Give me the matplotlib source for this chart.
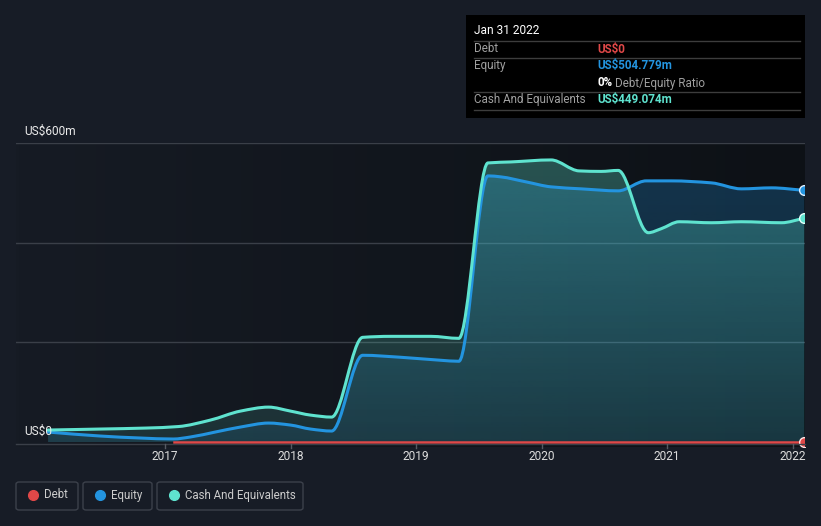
import numpy as np
import matplotlib
matplotlib.use("Agg")
import matplotlib.pyplot as plt
from matplotlib.patches import Rectangle, FancyBboxPatch, PathPatch
from matplotlib.path import Path
from matplotlib.colors import to_rgb

plt.rcParams['font.family'] = ['Roboto', 'DejaVu Sans']

# values (US$ m)
cash_years = [2016.068, 2016.482, 2016.85, 2017.104, 2017.359, 2017.598, 2017.821,
              2017.996, 2018.155, 2018.323, 2018.570, 2018.793, 2019.112,
              2019.335, 2019.566, 2019.749, 2020.068, 2020.291,
              2020.466, 2020.602, 2020.841, 2020.944, 2021.088, 2021.343, 2021.582,
              2021.900, 2022.082]
cash_vals = [24, 26, 28, 31, 44, 62, 70,
             62, 54, 50, 210, 212, 212,
             208, 560, 562, 566, 544,
             543, 545, 420, 428, 442, 440, 442,
             440, 449]

equity_years = [2016.068, 2016.482, 2016.801, 2017.064, 2017.199, 2017.398, 2017.598,
                2017.821, 2017.996, 2018.155, 2018.323, 2018.570, 2018.873,
                2019.191, 2019.335, 2019.566, 2019.669, 2019.869, 2020.068,
                2020.307, 2020.602, 2020.825, 2021.024, 2021.343, 2021.582, 2021.821,
                2022.082]
equity_vals = [20, 12, 8, 6, 10, 20, 30,
               38, 34, 26, 22, 174, 170,
               164, 162, 534, 532, 522, 512,
               508, 504, 524, 524, 520, 508, 510,
               505]

debt_years = [2017.07, 2018.0, 2019.0, 2020.0, 2021.0, 2022.082]
debt_vals = [0, 0, 0, 0, 0, 0]

tick_years = [2017, 2018, 2019, 2020, 2021, 2022]

BG = '#171c26'
CASH = '#5fe3cf'
EQUITY = '#2394df'
DEBT = '#e04848'

fig = plt.figure(figsize=(8.21, 5.26), dpi=100, facecolor=BG)
W, H = 821, 526

def px(x, y):
    return x / W, 1 - y / H

# axes: left 16px, right 805px, top 143px (600m), bottom 447px
x0, x1 = 2015.813, 2022.0876
ytop, ybot = 143, 447
ymin = -(ybot - 442) * 600 / 299
ax = fig.add_axes([16 / W, 1 - ybot / H, (805 - 16) / W, (ybot - ytop) / H])
ax.set_xlim(x0, x1)
ax.set_ylim(ymin, 600)
ax.axis('off')

# horizontal background gradient
c_left = np.array(to_rgb('#161b24'))
c_right = np.array(to_rgb('#0d1116'))
t = np.linspace(0, 1, 256)
bg = c_left[None, :] * (1 - t[:, None]) + c_right[None, :] * t[:, None]
ax.imshow(bg[None, :, :], extent=[x0, x1, ymin, 600], aspect='auto', zorder=0, origin='lower')

for gy in [200, 400, 600]:
    ax.axhline(gy, color='#3a3f48', lw=1, zorder=1)


def smooth_path(xs, ys, close=False):
    # monotone cubic (Fritsch-Carlson) drawn as bezier segments
    xs = np.asarray(xs, float)
    ys = np.asarray(ys, float)
    n = len(xs)
    d = np.diff(ys) / np.diff(xs)
    m = np.zeros(n)
    m[0], m[-1] = d[0], d[-1]
    for i in range(1, n - 1):
        if d[i - 1] * d[i] <= 0:
            m[i] = 0
        else:
            m[i] = 2 / (1 / d[i - 1] + 1 / d[i])
    verts = [(xs[0], ys[0])]
    codes = [Path.MOVETO]
    for i in range(n - 1):
        h = xs[i + 1] - xs[i]
        verts += [(xs[i] + h / 3, ys[i] + m[i] * h / 3),
                  (xs[i + 1] - h / 3, ys[i + 1] - m[i + 1] * h / 3),
                  (xs[i + 1], ys[i + 1])]
        codes += [Path.CURVE4] * 3
    if close:
        verts += [(xs[-1], 0), (xs[0], 0), (xs[0], ys[0])]
        codes += [Path.LINETO, Path.LINETO, Path.CLOSEPOLY]
    return Path(verts, codes)


def gradient_fill(xs, ys, color, a_top, a_bot, z):
    rgb = np.array(to_rgb(color))
    n = 256
    img = np.zeros((n, 1, 4))
    img[:, 0, :3] = rgb
    img[:, 0, 3] = np.linspace(a_bot, a_top, n)
    im = ax.imshow(img, extent=[x0, x1, 0, 600], aspect='auto', origin='lower', zorder=z)
    im.set_clip_path(smooth_path(xs, ys, close=True), ax.transData)


gradient_fill(equity_years, equity_vals, EQUITY, 0.28, 0.12, 2)
gradient_fill(cash_years, cash_vals, CASH, 0.32, 0.12, 3)

ax.add_patch(PathPatch(smooth_path(equity_years, equity_vals), facecolor='none',
                       edgecolor=EQUITY, lw=2.2, zorder=5, capstyle='round', joinstyle='round'))
ax.add_patch(PathPatch(smooth_path(cash_years, cash_vals), facecolor='none',
                       edgecolor=CASH, lw=2.2, zorder=6, capstyle='round', joinstyle='round'))
ax.plot(debt_years, debt_vals, color=DEBT, lw=1.8, zorder=7)

ax.plot(equity_years[-1], equity_vals[-1], 'o', ms=7, color=EQUITY, mec='#dfefff', mew=1, zorder=8)
ax.plot(cash_years[-1], cash_vals[-1], 'o', ms=7, color=CASH, mec='#e6fffa', mew=1, zorder=8)
ax.plot(debt_years[-1], debt_vals[-1], 'o', ms=7, color=DEBT, mec='#ffe6e6', mew=1, zorder=8)

# baseline and ticks
fig.add_artist(plt.Line2D([16 / W, 805 / W], [1 - 443.5 / H] * 2, color='#3a3f48', lw=1))
for ty in tick_years:
    xp = 165 + (ty - 2017) * 125.5
    fig.add_artist(plt.Line2D([xp / W] * 2, [1 - 444 / H, 1 - 448 / H], color='#555a63', lw=1))
    fig.text(xp / W, 1 - 457 / H, str(ty), color='#dcdcdc', fontsize=8.6, ha='center', va='center')

fig.text(*px(24, 131), 'US$600m', color='#ebebeb', fontsize=8.6, va='center')
fig.text(*px(24, 431), 'US$0', color='#ebebeb', fontsize=8.6, va='center')

# right side strip
fig.add_artist(Rectangle(px(805, 447), 16 / W, (447 - 143) / H, facecolor=BG, edgecolor='none'))

# tooltip
fig.add_artist(Rectangle(px(466, 118), (805 - 466) / W, (118 - 15) / H, facecolor='#000000', edgecolor='none'))
fig.text(*px(474, 31), 'Jan 31 2022', color='#ffffff', fontsize=8.6, va='center')
for ly in [41, 58, 92, 110]:
    fig.add_artist(plt.Line2D([474 / W, 800 / W], [1 - ly / H] * 2, color='#3d3d3d', lw=1))
fig.text(*px(474, 49), 'Debt', color='#a0a0a0', fontsize=8.4, va='center')
fig.text(*px(597, 49), 'US$0', color=DEBT, fontsize=8.4, va='center', fontweight='bold')
fig.text(*px(474, 66), 'Equity', color='#a0a0a0', fontsize=8.4, va='center')
fig.text(*px(597, 66), 'US$504.779m', color=EQUITY, fontsize=8.4, va='center', fontweight='bold')
fig.text(*px(597, 83), '0%', color='#ffffff', fontsize=8.4, va='center', fontweight='bold')
fig.text(*px(615, 83), 'Debt/Equity Ratio', color='#a0a0a0', fontsize=8.4, va='center')
fig.text(*px(474, 100), 'Cash And Equivalents', color='#a0a0a0', fontsize=8.4, va='center')
fig.text(*px(597, 100), 'US$449.074m', color=CASH, fontsize=8.4, va='center', fontweight='bold')

# legend
legend_items = [('Debt', DEBT, 16, 78), ('Equity', EQUITY, 83, 152), ('Cash And Equivalents', CASH, 157, 303)]
for label, col, lx0, lx1 in legend_items:
    fig.add_artist(FancyBboxPatch(px(lx0, 510), (lx1 - lx0) / W, 28 / H,
                                  boxstyle='round,pad=0,rounding_size=0.004',
                                  facecolor='none', edgecolor='#3c414b', lw=1))
    fig.add_artist(plt.Line2D([(lx0 + 17) / W], [1 - 495 / H], marker='o', ms=7,
                              color=col, mec=col, lw=0))
    fig.text(*px(lx0 + 28, 495), label, color='#cccccc', fontsize=8.3, va='center')

fig.savefig('out.png', dpi=100, facecolor=BG)
